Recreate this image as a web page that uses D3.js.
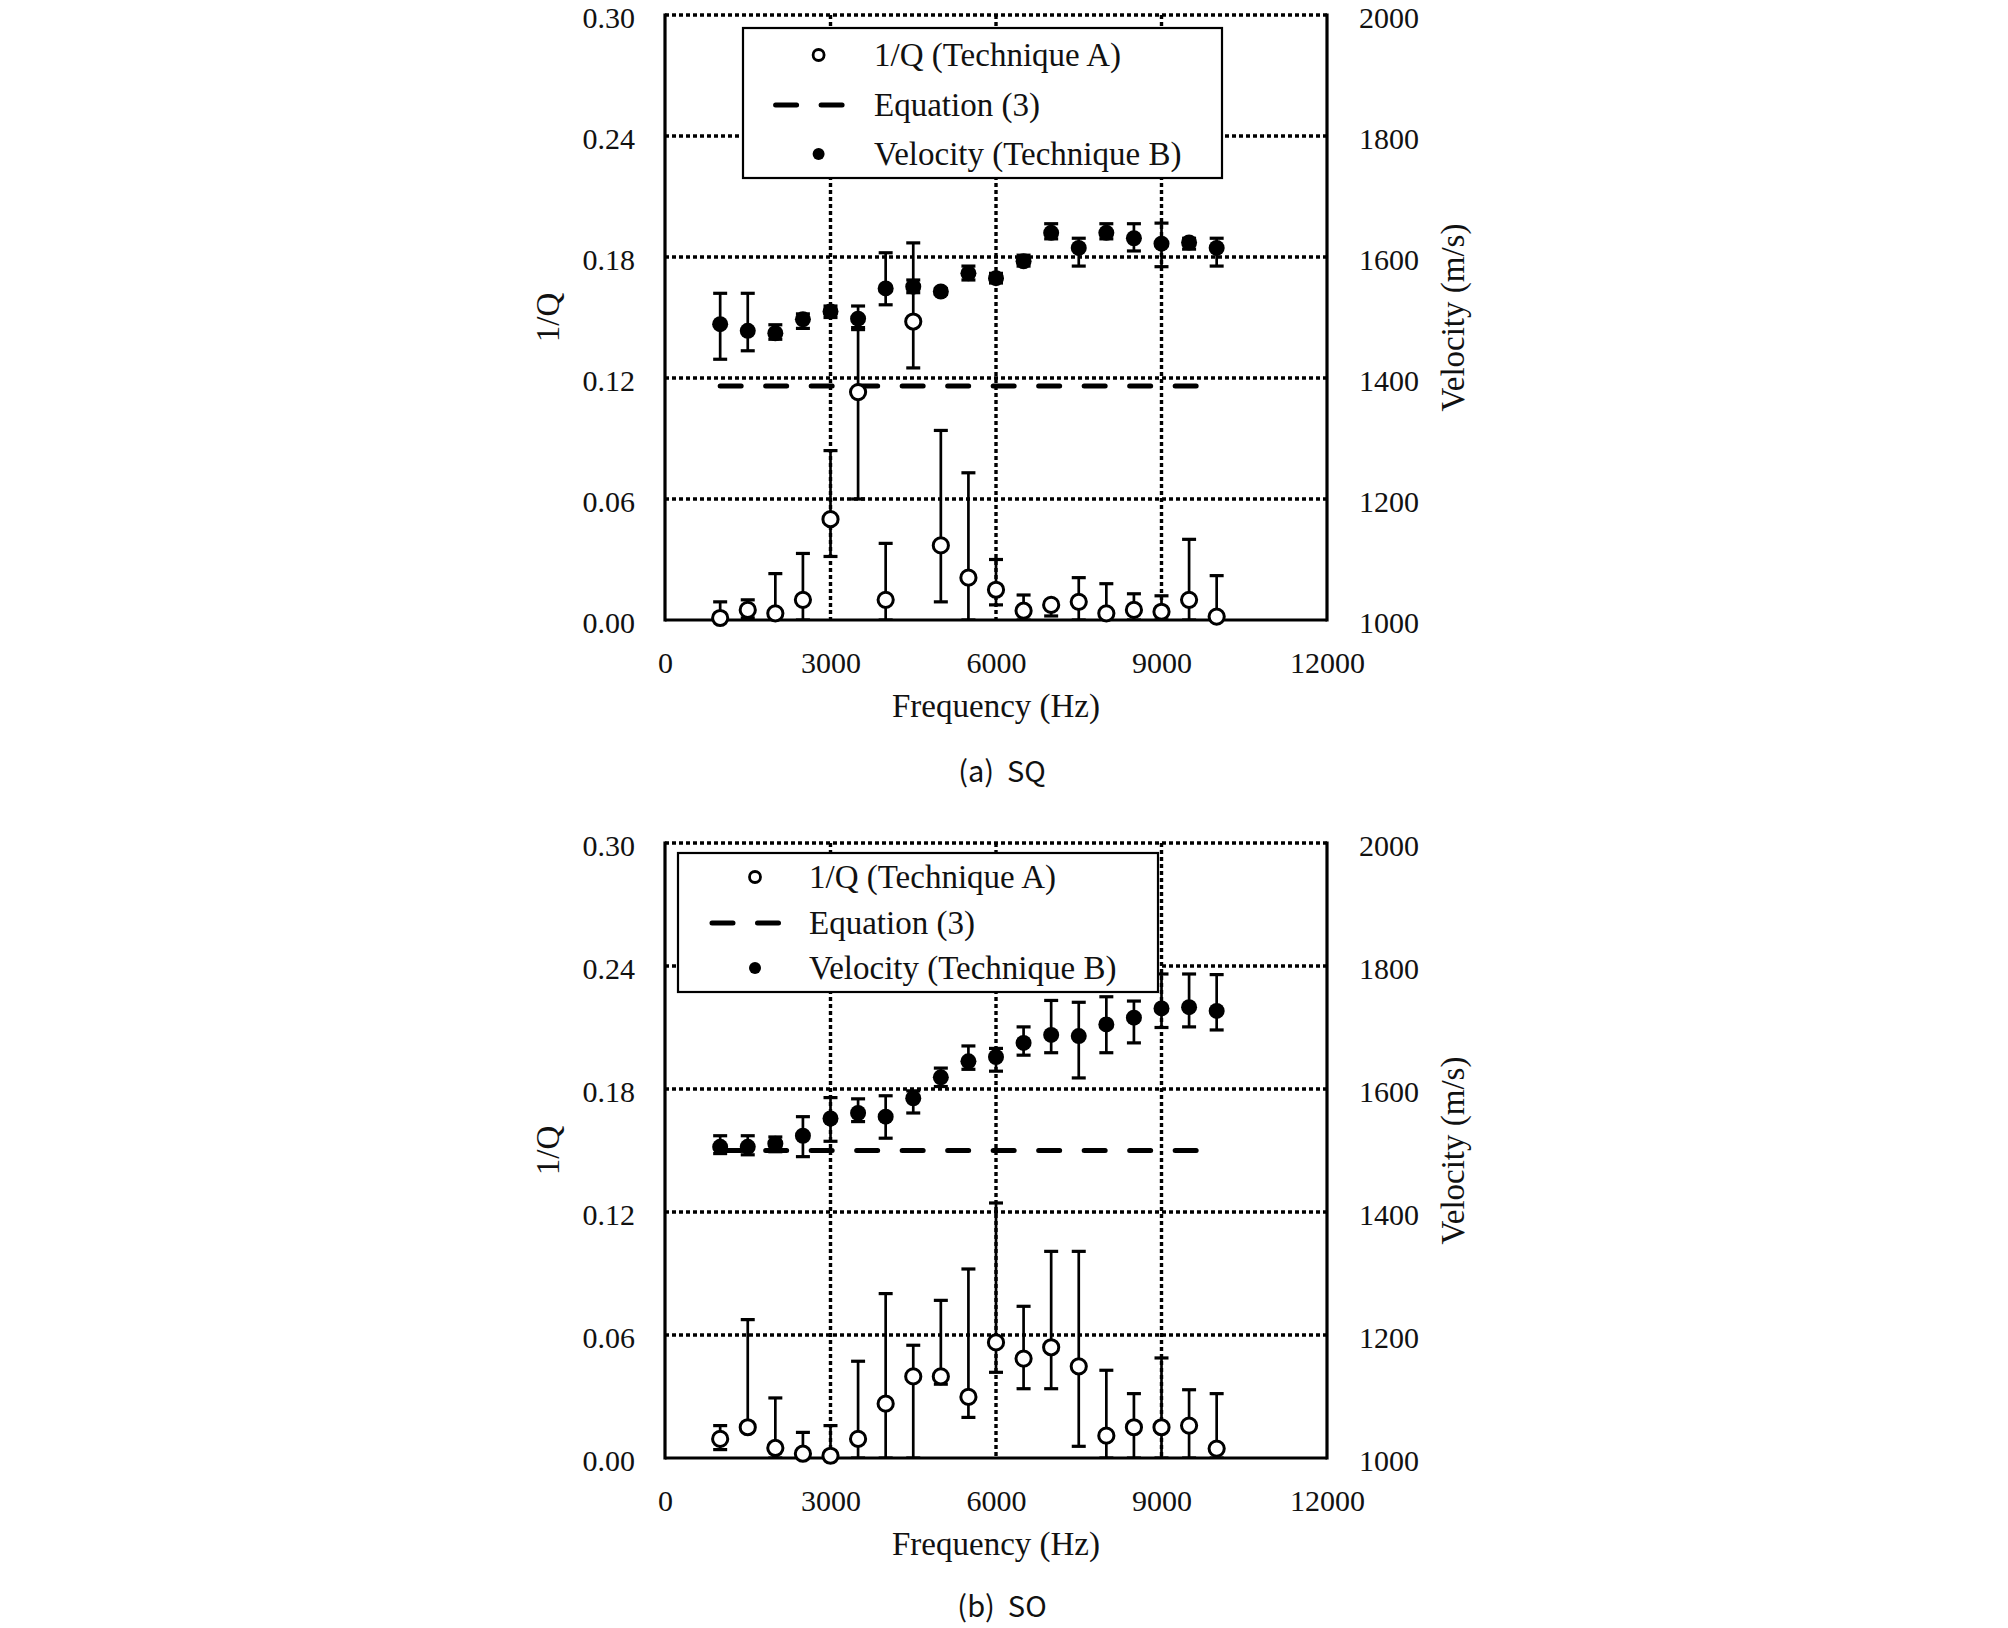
<!DOCTYPE html>
<html>
<head>
<meta charset="utf-8">
<script src="https://cdn.jsdelivr.net/npm/d3@7"></script>
<style>
html,body{margin:0;padding:0;background:#fff;}
svg{display:block;}
</style>
</head>
<body>
<svg id="chart" width="2008" height="1628"></svg>
<script>
// ---------- DATA ----------
const freq = [1000,1500,2000,2500,3000,3500,4000,4500,5000,5500,6000,6500,7000,7500,8000,8500,9000,9500,10000];

// (a) SQ
const sqQ     = [0.001,0.005,0.0033,0.010,0.050,0.113,0.010,0.148,0.037,0.021,0.015,0.0046,0.0075,0.009,0.0033,0.005,0.0041,0.010,0.0017];
const sqQLow  = [0,0.001,0,0,0.0315,0.060,0,0.125,0.009,0,0.0075,0,0.002,0,0,0,0,0,0];
const sqQHigh = [0.009,0.010,0.023,0.033,0.084,0.145,0.038,0.187,0.094,0.073,0.030,0.0124,0.009,0.021,0.018,0.013,0.012,0.040,0.022];
const sqVel     = [1489,1478,1474,1497,1510,1498,1548,1551,1543,1573,1565,1593,1640,1615,1640,1631,1622,1624,1615];
const sqVelLow  = [1431,1445,1464,1482,1500,1480,1521,1541,1538,1562,1557,1585,1630,1585,1630,1610,1584,1613,1585];
const sqVelHigh = [1540,1540,1488,1506,1519,1519,1607,1562,1548,1585,1573,1603,1655,1631,1655,1655,1656,1631,1631];
const sqEquation = 0.116;

// (b) SO
const soQ     = [0.0093,0.015,0.0049,0.0021,0.0011,0.0093,0.0265,0.0398,0.0398,0.0298,0.0564,0.0485,0.054,0.0447,0.0109,0.015,0.015,0.0158,0.0046];
const soQLow  = [0.0041,0.013,0,0,0,0,0,0,0.036,0.0198,0.0418,0.0338,0.0338,0.0057,0,0,0,0,0];
const soQHigh = [0.0158,0.0675,0.0293,0.0125,0.0158,0.0472,0.0802,0.055,0.0769,0.0922,0.1244,0.074,0.1008,0.1008,0.0428,0.0314,0.0488,0.0333,0.0314];
const soVel     = [1506,1506,1511,1524,1552,1561,1555,1585,1619,1645,1652,1675,1688,1686,1705,1716,1731,1733,1727];
const soVelLow  = [1495,1493,1498,1490,1515,1547,1520,1561,1604,1632,1629,1655,1659,1618,1659,1675,1700,1701,1696];
const soVelHigh = [1524,1524,1522,1555,1586,1584,1589,1597,1634,1670,1666,1701,1744,1741,1750,1743,1787,1787,1786];
const soEquation = 0.150;

const equationRange = [1000, 10000];

// axis ticks
const xTicks = [0,3000,6000,9000,12000];
const qTicks = [0,0.06,0.12,0.18,0.24,0.30];
const vTicks = [1000,1200,1400,1600,1800,2000];

const legendLabels = ["1/Q (Technique A)", "Equation (3)", "Velocity (Technique B)"];
const captions = ["(a)  SQ", "(b)  SO"];
const xTitle = "Frequency (Hz)";
const qTitle = "1/Q";
const vTitle = "Velocity (m/s)";

// ---------- LAYOUT ----------
const SERIF = "'Liberation Serif','Times New Roman',serif";
const SANS = "'Noto Sans CJK KR','Noto Sans',sans-serif";
const left = 665, right = 1327;

const panels = [
  {top:15, bottom:620, q:sqQ, qLo:sqQLow, qHi:sqQHigh, v:sqVel, vLo:sqVelLow, vHi:sqVelHigh, eq:sqEquation,
   legend:{x:743, y:28, w:479, h:150, mx:818.6, tx:874, rows:[55,105,154]}, caption:captions[0], capY:782},
  {top:843, bottom:1458, q:soQ, qLo:soQLow, qHi:soQHigh, v:soVel, vLo:soVelLow, vHi:soVelHigh, eq:soEquation,
   legend:{x:678, y:853, w:480, h:139, mx:755, tx:809, rows:[877,923,968]}, caption:captions[1], capY:1617}
];

const svg = d3.select("#chart");
const x = d3.scaleLinear().domain([0,12000]).range([left,right]);

const GRID_DASH = "4,3";
const EQ_DASH = "21,24.5";
const CAP = 7;

panels.forEach(p => {
  const g = svg.append("g");
  const yQ = d3.scaleLinear().domain([0,0.30]).range([p.bottom,p.top]);
  const yV = d3.scaleLinear().domain([1000,2000]).range([p.bottom,p.top]);

  // gridlines
  g.selectAll(".hg").data(qTicks.filter(d=>d>0)).join("line")
    .attr("x1",left).attr("x2",right).attr("y1",d=>yQ(d)).attr("y2",d=>yQ(d))
    .attr("stroke","#000").attr("stroke-width",3.4).attr("stroke-dasharray",GRID_DASH);
  g.selectAll(".vg").data(xTicks.filter(d=>d>0 && d<12000)).join("line")
    .attr("x1",d=>x(d)).attr("x2",d=>x(d)).attr("y1",p.top).attr("y2",p.bottom)
    .attr("stroke","#000").attr("stroke-width",3.4).attr("stroke-dasharray",GRID_DASH);

  // frame: left, bottom, right solid
  g.append("line").attr("x1",left).attr("x2",left).attr("y1",p.top-1.5).attr("y2",p.bottom+1.5)
    .attr("stroke","#000").attr("stroke-width",3.2);
  g.append("line").attr("x1",left).attr("x2",right).attr("y1",p.bottom).attr("y2",p.bottom)
    .attr("stroke","#000").attr("stroke-width",3.2);
  g.append("line").attr("x1",right).attr("x2",right).attr("y1",p.top-1.5).attr("y2",p.bottom+1.5)
    .attr("stroke","#000").attr("stroke-width",3.2);

  // equation (3) dashed line
  g.append("line")
    .attr("x1",x(equationRange[0])).attr("x2",x(equationRange[1]))
    .attr("y1",yQ(p.eq)).attr("y2",yQ(p.eq))
    .attr("stroke","#000").attr("stroke-width",5).attr("stroke-linecap","round")
    .attr("stroke-dasharray",EQ_DASH);

  const clipId = "clip"+p.top;
  svg.append("clipPath").attr("id",clipId).append("rect")
    .attr("x",left).attr("y",p.top-20).attr("width",right-left+20).attr("height",p.bottom-p.top+20);

  const qData = freq.map((f,i)=>({f, v:p.q[i], lo:p.qLo[i], hi:p.qHi[i]}));
  const vData = freq.map((f,i)=>({f, v:p.v[i], lo:p.vLo[i], hi:p.vHi[i]}));

  function errorBars(data, y){
    const eb = g.append("g").attr("clip-path",`url(#${clipId})`);
    eb.selectAll("line.stem").data(data).join("line")
      .attr("x1",d=>x(d.f)).attr("x2",d=>x(d.f)).attr("y1",d=>y(d.lo)).attr("y2",d=>y(d.hi))
      .attr("stroke","#000").attr("stroke-width",2.7);
    eb.selectAll("line.capHi").data(data).join("line")
      .attr("x1",d=>x(d.f)-CAP).attr("x2",d=>x(d.f)+CAP).attr("y1",d=>y(d.hi)).attr("y2",d=>y(d.hi))
      .attr("stroke","#000").attr("stroke-width",3.2);
    eb.selectAll("line.capLo").data(data).join("line")
      .attr("x1",d=>x(d.f)-CAP).attr("x2",d=>x(d.f)+CAP).attr("y1",d=>y(d.lo)).attr("y2",d=>y(d.lo))
      .attr("stroke","#000").attr("stroke-width",3.2);
  }
  errorBars(qData, yQ);
  errorBars(vData, yV);

  // markers
  g.selectAll("circle.q").data(qData).join("circle")
    .attr("cx",d=>x(d.f)).attr("cy",d=>yQ(d.v)).attr("r",7.6)
    .attr("fill","#fff").attr("stroke","#000").attr("stroke-width",3);
  g.selectAll("circle.v").data(vData).join("circle")
    .attr("cx",d=>x(d.f)).attr("cy",d=>yV(d.v)).attr("r",8)
    .attr("fill","#000");

  // axes
  const axL = d3.axisLeft(yQ).tickValues(qTicks).tickFormat(d3.format(".2f")).tickSize(0).tickPadding(30);
  const axR = d3.axisRight(yV).tickValues(vTicks).tickFormat(d3.format("d")).tickSize(0).tickPadding(32);
  const axB = d3.axisBottom(x).tickValues(xTicks).tickFormat(d3.format("d")).tickSize(0).tickPadding(32);
  [[axL,`translate(${left},0)`,true],[axR,`translate(${right},0)`,true],[axB,`translate(0,${p.bottom})`,false]].forEach(([ax,tr,vert])=>{
    const a = g.append("g").attr("transform",tr).call(ax);
    a.select(".domain").remove();
    const t = a.selectAll("text").attr("font-family",SERIF).attr("font-size",30).attr("fill","#111");
    if (vert) t.attr("dy","0.4em");
  });

  // titles
  g.append("text").attr("x",(left+right)/2).attr("y",p.bottom+97)
    .attr("text-anchor","middle").attr("font-family",SERIF).attr("font-size",33).attr("fill","#111").text(xTitle);
  const cy = (p.top+p.bottom)/2;
  g.append("text").attr("transform",`translate(548,${cy}) rotate(-90)`)
    .attr("text-anchor","middle").attr("dominant-baseline","central")
    .attr("font-family",SERIF).attr("font-size",33).attr("fill","#111").text(qTitle);
  g.append("text").attr("transform",`translate(1453,${cy}) rotate(-90)`)
    .attr("text-anchor","middle").attr("dominant-baseline","central")
    .attr("font-family",SERIF).attr("font-size",33).attr("fill","#111").text(vTitle);

  // legend
  const L = p.legend;
  const lg = g.append("g");
  lg.append("rect").attr("x",L.x).attr("y",L.y).attr("width",L.w).attr("height",L.h)
    .attr("fill","#fff").attr("stroke","#000").attr("stroke-width",2.2);
  lg.append("circle").attr("cx",L.mx).attr("cy",L.rows[0]).attr("r",5.5)
    .attr("fill","#fff").attr("stroke","#000").attr("stroke-width",2.8);
  lg.append("line").attr("x1",L.mx-43).attr("x2",L.mx+27).attr("y1",L.rows[1]).attr("y2",L.rows[1])
    .attr("stroke","#000").attr("stroke-width",5).attr("stroke-linecap","round").attr("stroke-dasharray",EQ_DASH);
  lg.append("circle").attr("cx",L.mx).attr("cy",L.rows[2]).attr("r",6)
    .attr("fill","#000");
  lg.selectAll("text").data(legendLabels).join("text")
    .attr("x",L.tx).attr("y",(d,i)=>L.rows[i]).attr("dominant-baseline","central")
    .attr("font-family",SERIF).attr("font-size",33).attr("fill","#111").text(d=>d);

  // caption (baseline positioned)
  svg.append("text").attr("x",1002).attr("y",p.capY)
    .attr("text-anchor","middle").attr("font-family",SANS).attr("font-size",29).attr("fill","#111")
    .style("white-space","pre").text(p.caption);
});
</script>
</body>
</html>
